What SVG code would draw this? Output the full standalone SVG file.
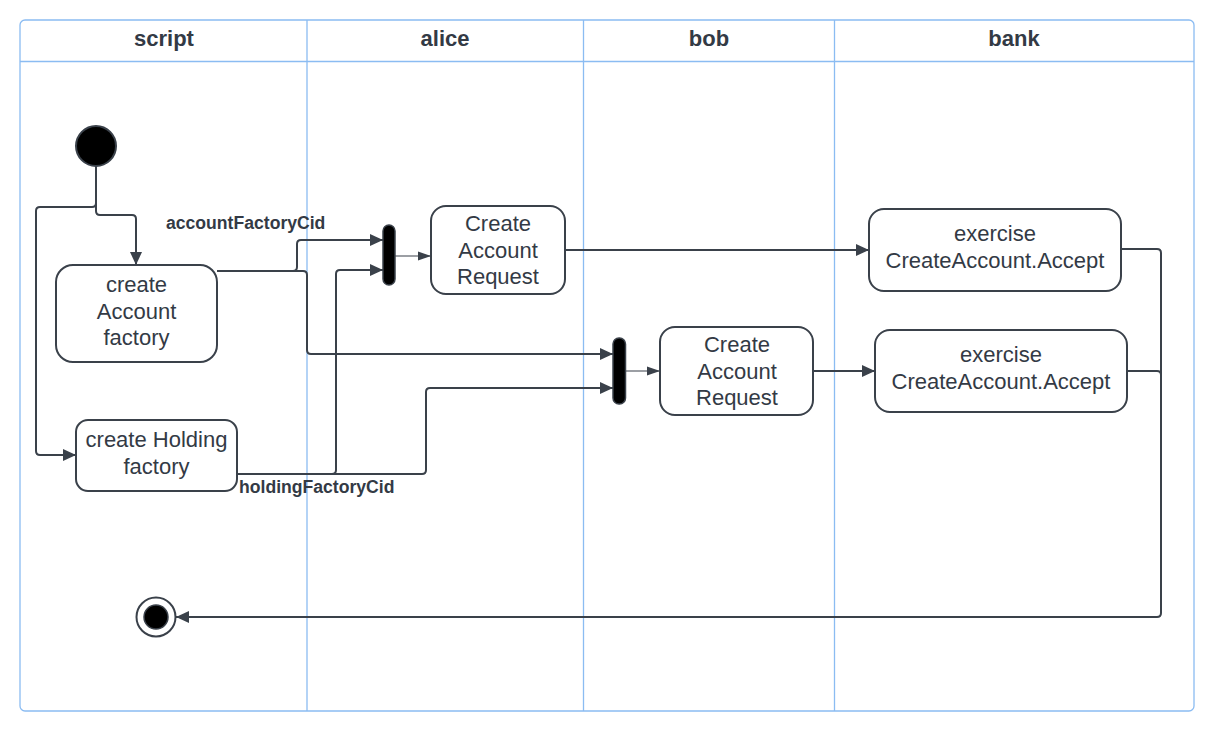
<svg xmlns="http://www.w3.org/2000/svg" width="1214" height="731" viewBox="0 0 1214 731">
<style>
.lane{fill:none;stroke:#8bbcf2;stroke-width:1.3}
.hdr{font-family:"Liberation Sans",Arial,sans-serif;font-weight:bold;font-size:22px;fill:#333a45;text-anchor:middle}
.node{fill:#fff;stroke:#3a414a;stroke-width:2}
.txt{font-family:"Liberation Sans",Arial,sans-serif;font-size:22px;fill:#333a45;text-anchor:middle}
.lbl{font-family:"Liberation Sans",Arial,sans-serif;font-weight:bold;font-size:17.6px;fill:#333a45}
.c{fill:none;stroke:#3a414a;stroke-width:2;stroke-linejoin:round}
.t{fill:none;stroke:#3a414a;stroke-width:1.2}
</style>
<defs>
<marker id="ah" markerUnits="userSpaceOnUse" markerWidth="14" markerHeight="12" refX="13" refY="6" orient="auto">
<path d="M0,0 L13,6 L0,12 Z" fill="#3a414a"/>
</marker>
<marker id="ahs" markerUnits="userSpaceOnUse" markerWidth="14" markerHeight="12" refX="13" refY="5" orient="auto">
<path d="M0,0.5 L13,5 L0,9.5 Z" fill="#3a414a"/>
</marker>
</defs>
<rect width="1214" height="731" fill="#fff"/>
<g id="lanes">
<rect class="lane" x="20" y="20" width="1174" height="691" rx="5"/>
<line class="lane" x1="20" y1="61.5" x2="1194" y2="61.5"/>
<line class="lane" x1="307" y1="20" x2="307" y2="711"/>
<line class="lane" x1="583.5" y1="20" x2="583.5" y2="711"/>
<line class="lane" x1="834.5" y1="20" x2="834.5" y2="711"/>
<text class="hdr" x="164" y="46">script</text>
<text class="hdr" x="445" y="46">alice</text>
<text class="hdr" x="709" y="46">bob</text>
<text class="hdr" x="1014" y="46">bank</text>
</g>
<g id="connectors">
<path class="c" d="M96,166 V211 Q96,215 100,215 H132 Q136,215 136,219 V265" marker-end="url(#ah)"/>
<path class="c" d="M96,166 V203 Q96,207 92,207 H40 Q36,207 36,211 V451 Q36,455 40,455 H76" marker-end="url(#ah)"/>
<path class="c" d="M217,271 H293 Q297,271 297,267 V244 Q297,240 301,240 H383" marker-end="url(#ah)"/>
<path class="c" d="M217,271 H303 Q307,271 307,275 V350 Q307,354 311,354 H613" marker-end="url(#ah)"/>
<path class="c" d="M237,474 H332 Q336,474 336,470 V274 Q336,270 340,270 H383" marker-end="url(#ah)"/>
<path class="c" d="M237,474 H422 Q426,474 426,470 V392 Q426,388 430,388 H613" marker-end="url(#ah)"/>
<path class="t" d="M395,256 H431" marker-end="url(#ahs)"/>
<path class="c" d="M565,250 H869" marker-end="url(#ah)"/>
<path class="t" d="M626,371 H660" marker-end="url(#ahs)"/>
<path class="c" d="M813,371 H875" marker-end="url(#ah)"/>
<path class="c" d="M1121,249 H1157 Q1161,249 1161,253 V613 Q1161,617 1157,617 H176" marker-end="url(#ah)"/>
<path class="c" d="M1127,371 H1157 Q1161,371 1161,375 V613"/>
<text class="lbl" x="166" y="229">accountFactoryCid</text>
<text class="lbl" x="239" y="493">holdingFactoryCid</text>
</g>
<g id="start"><circle cx="96" cy="146" r="20" fill="#000" stroke="#3a414a" stroke-width="2"/></g>
<g id="end"><circle cx="156" cy="617" r="19.5" fill="#fff" stroke="#3a414a" stroke-width="2"/><circle cx="156" cy="617" r="12" fill="#000" stroke="#3a414a" stroke-width="1.5"/></g>
<g id="createAccountFactory"><rect class="node" x="56" y="265" width="161" height="97" rx="17"/>
<text class="txt" x="136.5" y="292">create</text><text class="txt" x="136.5" y="319">Account</text><text class="txt" x="136.5" y="345">factory</text></g>
<g id="createHoldingFactory"><rect class="node" x="76" y="420" width="161" height="71" rx="12"/>
<text class="txt" x="156.5" y="447">create Holding</text><text class="txt" x="156.5" y="474">factory</text></g>
<g id="fork1"><rect x="383" y="225" width="12" height="60" rx="6" fill="#000" stroke="#3a414a" stroke-width="1.5"/></g>
<g id="fork2"><rect x="613" y="338" width="12.5" height="66" rx="6" fill="#000" stroke="#3a414a" stroke-width="1.5"/></g>
<g id="aliceRequest"><rect class="node" x="431" y="206" width="134" height="88" rx="15"/>
<text class="txt" x="498" y="231">Create</text><text class="txt" x="498" y="258">Account</text><text class="txt" x="498" y="284">Request</text></g>
<g id="bobRequest"><rect class="node" x="660" y="327" width="153" height="88" rx="15"/>
<text class="txt" x="737" y="352">Create</text><text class="txt" x="737" y="379">Account</text><text class="txt" x="737" y="405">Request</text></g>
<g id="acceptAlice"><rect class="node" x="869" y="209" width="252" height="82" rx="15"/>
<text class="txt" x="995" y="241">exercise</text><text class="txt" x="995" y="268">CreateAccount.Accept</text></g>
<g id="acceptBob"><rect class="node" x="875" y="330" width="252" height="82" rx="15"/>
<text class="txt" x="1001" y="362">exercise</text><text class="txt" x="1001" y="389">CreateAccount.Accept</text></g>
</svg>
